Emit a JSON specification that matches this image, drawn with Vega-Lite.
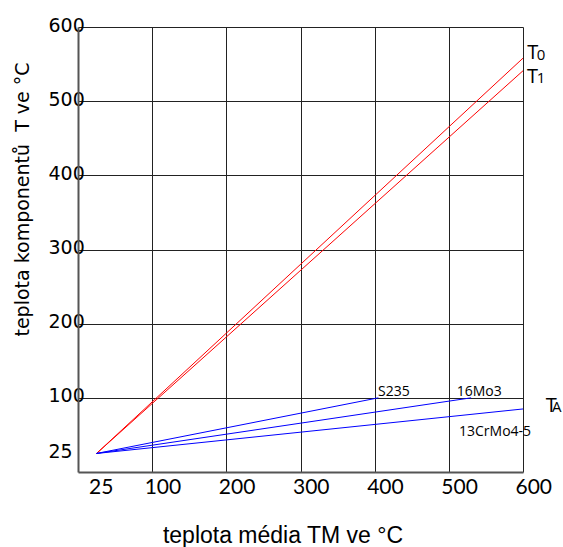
{
  "$schema": "https://vega.github.io/schema/vega-lite/v6.json",
  "width": 445,
  "height": 445,
  "autosize": {"type": "none"},
  "padding": {"left": 78, "top": 27, "right": 40, "bottom": 75},
  "background": "white",
  "config": {"view": {"stroke": null}},
  "datasets": {
    "lines": [
      {"series": "T0", "x": 25, "y": 25}, {"series": "T0", "x": 600, "y": 558},
      {"series": "T1", "x": 25, "y": 25}, {"series": "T1", "x": 600, "y": 541},
      {"series": "S235", "x": 25, "y": 25}, {"series": "S235", "x": 405, "y": 100},
      {"series": "16Mo3", "x": 25, "y": 25}, {"series": "16Mo3", "x": 530, "y": 100},
      {"series": "13CrMo4-5", "x": 25, "y": 25}, {"series": "13CrMo4-5", "x": 600, "y": 85}
    ],
    "big": [
      {"t": "T", "x": 605.8, "y": 557},
      {"t": "T", "x": 605.4, "y": 524.4},
      {"t": "T", "x": 630.6, "y": 80.3}
    ],
    "sub": [
      {"t": "0", "x": 618.5, "y": 555.5},
      {"t": "1", "x": 618.5, "y": 524.1},
      {"t": "A", "x": 639, "y": 80.3}
    ],
    "steel": [
      {"t": "S235", "x": 404.5, "y": 102.5},
      {"t": "16Mo3", "x": 510.6, "y": 102.5},
      {"t": "13CrMo4-5", "x": 513.7, "y": 48.3}
    ]
  },
  "layer": [
    {
      "data": {"name": "lines"},
      "mark": {"type": "line", "strokeWidth": 1},
      "encoding": {
        "x": {
          "field": "x", "type": "quantitative",
          "scale": {"domain": [0, 600], "nice": false, "zero": false},
          "axis": {
            "values": [25, 100, 200, 300, 400, 500, 600],
            "title": "teplota média TM ve °C",
            "titleFont": "Liberation Sans", "titleFontSize": 23, "titleFontWeight": "normal", "titleColor": "black",
            "titleX": 204.5, "titleY": 63, "titleBaseline": "middle", "titleAlign": "center",
            "labelFont": "Lato", "labelFontSize": 21, "labelColor": "black",
            "labelAlign": "left", "labelOffset": -8, "labelPadding": 4,
            "ticks": false, "domainColor": "#555", "domainWidth": 2,
            "grid": true, "gridColor": "#222", "gridWidth": 1,
            "gridOpacity": {"condition": {"test": "datum.value == 25", "value": 0}, "value": 1}
          }
        },
        "y": {
          "field": "y", "type": "quantitative",
          "scale": {"domain": [0, 600], "nice": false, "zero": false},
          "axis": {
            "values": [25, 100, 200, 300, 400, 500, 600],
            "title": "teplota komponentů\u00a0 T ve °C",
            "titleFont": "DejaVu Sans", "titleFontSize": 19, "titleFontWeight": "normal", "titleColor": "black",
            "titleX": -56, "titleY": 172, "titleAngle": -90, "titleBaseline": "middle", "titleAlign": "center",
            "labelFont": "DejaVu Sans", "labelFontSize": 19, "labelColor": "black",
            "labelAlign": "left", "labelPadding": 30, "labelOffset": -2, "labelBaseline": "middle",
            "ticks": false, "domainColor": "#555", "domainWidth": 2,
            "grid": true, "gridColor": "#222", "gridWidth": 1,
            "gridOpacity": {"condition": {"test": "datum.value == 25", "value": 0}, "value": 1}
          }
        },
        "detail": {"field": "series"},
        "color": {
          "field": "series", "type": "nominal",
          "scale": {"domain": ["T0", "T1", "S235", "16Mo3", "13CrMo4-5"], "range": ["#ff0000", "#ff0000", "#0000ff", "#0000ff", "#0000ff"]},
          "legend": null
        }
      }
    },
    {
      "data": {"name": "big"},
      "mark": {"type": "text", "font": "Open Sans", "fontSize": 20, "align": "left", "baseline": "alphabetic", "color": "black"},
      "encoding": {
        "x": {"field": "x", "type": "quantitative"},
        "y": {"field": "y", "type": "quantitative"},
        "text": {"field": "t"}
      }
    },
    {
      "data": {"name": "sub"},
      "mark": {"type": "text", "font": "Open Sans", "fontSize": 15, "align": "left", "baseline": "alphabetic", "color": "black"},
      "encoding": {
        "x": {"field": "x", "type": "quantitative"},
        "y": {"field": "y", "type": "quantitative"},
        "text": {"field": "t"}
      }
    },
    {
      "data": {"name": "steel"},
      "mark": {"type": "text", "font": "Open Sans", "fontSize": 14, "align": "left", "baseline": "alphabetic", "color": "black"},
      "encoding": {
        "x": {"field": "x", "type": "quantitative"},
        "y": {"field": "y", "type": "quantitative"},
        "text": {"field": "t"}
      }
    }
  ]
}
